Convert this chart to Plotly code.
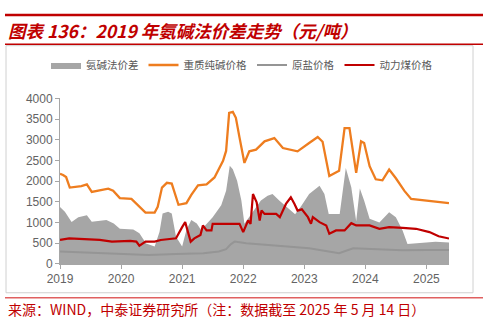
import plotly.graph_objects as go

# ---------------- data ----------------
spread_x = [2019.00, 2019.08, 2019.19, 2019.30, 2019.44, 2019.52, 2019.76, 2019.88, 2019.98, 2020.20,
            2020.30, 2020.41, 2020.55, 2020.63, 2020.68, 2020.77, 2020.83, 2020.90, 2021.00, 2021.07,
            2021.15, 2021.24, 2021.31, 2021.40, 2021.50, 2021.64, 2021.72, 2021.78, 2021.83, 2021.90,
            2021.97, 2022.02, 2022.10, 2022.21, 2022.29, 2022.40, 2022.48, 2022.59, 2022.72, 2022.85,
            2022.95, 2023.08, 2023.25, 2023.33, 2023.40, 2023.58, 2023.68, 2023.77, 2023.85, 2023.91,
            2023.98, 2024.07, 2024.23, 2024.39, 2024.50, 2024.61, 2024.69, 2024.93, 2025.15, 2025.37]
spread = [1375, 1260, 1015, 1130, 1175, 1020, 1060, 980, 850, 830,
          740, 495, 420, 780, 1220, 1260, 1220, 660, 420, 820,
          1060, 980, 820, 980, 1130, 1420, 1770, 2370, 2290, 2010,
          1530, 970, 1130, 1370, 1530, 1650, 1690, 1530, 1370, 1200,
          1400, 1690, 1890, 1690, 1210, 1210, 2320, 1850, 1030, 1820,
          1530, 1090, 1000, 1250, 1130, 810, 480, 510, 540, 520]

soda_x = [2019.00, 2019.05, 2019.10, 2019.16, 2019.35, 2019.44, 2019.52, 2019.65, 2019.79, 2019.87,
          2019.98, 2020.17, 2020.25, 2020.40, 2020.55, 2020.60, 2020.67, 2020.75, 2020.83, 2020.94,
          2021.07, 2021.15, 2021.26, 2021.40, 2021.53, 2021.67, 2021.72, 2021.77, 2021.83, 2021.88,
          2021.94, 2022.02, 2022.10, 2022.21, 2022.35, 2022.51, 2022.65, 2022.89, 2023.08, 2023.22,
          2023.30, 2023.41, 2023.57, 2023.66, 2023.74, 2023.85, 2023.93, 2023.98, 2024.07, 2024.17,
          2024.28, 2024.39, 2024.50, 2024.64, 2024.75, 2025.05, 2025.37]
soda = [2180, 2150, 2100, 1845, 1880, 1920, 1740, 1770, 1820, 1770,
        1590, 1570, 1450, 1240, 1240, 1380, 1845, 1960, 1940, 1430,
        1470, 1670, 1900, 1920, 2090, 2490, 2730, 3645, 3670, 3530,
        3050, 2440, 2720, 2760, 2960, 3040, 2800, 2720, 2920, 3065,
        2950, 2125, 2250, 3280, 3280, 2200, 2960, 2920, 2360, 2045,
        2020, 2280, 2070, 1765, 1570, 1530, 1470]

salt_x = [2019.00, 2019.20, 2019.65, 2020.10, 2020.45, 2020.90, 2021.35, 2021.60, 2021.72, 2021.80,
          2021.86, 2022.05, 2022.40, 2022.76, 2023.08, 2023.40, 2023.57, 2023.80, 2024.10, 2024.60,
          2025.00, 2025.37]
salt = [300, 290, 265, 250, 220, 240, 260, 300, 360, 480,
        540, 500, 460, 420, 380, 300, 260, 380, 360, 330,
        335, 340]

coal_x = [2019.00, 2019.15, 2019.40, 2019.65, 2019.85, 2020.15, 2020.25, 2020.30, 2020.40, 2020.55,
          2020.65, 2020.90, 2021.00, 2021.05, 2021.14, 2021.20, 2021.30, 2021.34, 2021.40, 2021.48,
          2021.50, 2021.53, 2021.94, 2022.00, 2022.08, 2022.12, 2022.16, 2022.22, 2022.27, 2022.30,
          2022.35, 2022.54, 2022.60, 2022.70, 2022.78, 2022.84, 2022.89, 2022.96, 2023.06, 2023.11,
          2023.14, 2023.25, 2023.36, 2023.41, 2023.52, 2023.66, 2023.77, 2023.85, 2024.07, 2024.23,
          2024.39, 2024.61, 2024.83, 2025.05, 2025.20, 2025.37]
coal = [580, 620, 600, 580, 540, 560, 540, 440, 540, 540,
        580, 620, 890, 1010, 540, 620, 700, 930, 810, 810,
        970, 970, 970, 770, 1050, 970, 1690, 1490, 1050, 1290,
        1210, 1210, 1130, 1450, 1610, 1450, 1290, 1320, 1130, 970,
        1130, 1010, 930, 730, 810, 810, 985, 930, 930, 850,
        890, 870, 850, 770, 670, 615]

year_ticks = [2019, 2020, 2021, 2022, 2023, 2024, 2025]
series_names = ["氨碱法价差", "重质纯碱价格", "原盐价格", "动力煤价格"]

title_text = "图表 136：2019 年氨碱法价差走势（元/吨）"
source_text = "来源：WIND，中泰证券研究所（注：数据截至 2025 年 5 月 14 日）"

# ---------------- layout geometry ----------------
W, H = 488, 321
L, R, T, B = 60, 39, 97, 57
PW, PH = W - L - R, H - T - B


def px(x):
    return (x - L) / PW


def py(y):
    return (H - B - y) / PH


fig = go.Figure()
fig.add_trace(go.Scatter(x=spread_x, y=spread, name=series_names[0], mode="lines",
                         line=dict(color="#a6a6a6", width=0), fill="tozeroy",
                         fillcolor="#a6a6a6"))
fig.add_trace(go.Scatter(x=soda_x, y=soda, name=series_names[1], mode="lines",
                         line=dict(color="#ee7d1f", width=2.3)))
fig.add_trace(go.Scatter(x=salt_x, y=salt, name=series_names[2], mode="lines",
                         line=dict(color="#959595", width=2)))
fig.add_trace(go.Scatter(x=coal_x, y=coal, name=series_names[3], mode="lines",
                         line=dict(color="#c00000", width=2.2)))

axis_font = dict(family="Liberation Sans, Arial", size=12, color="#636363")
fig.update_xaxes(range=[2019, 2025.37], tickvals=year_ticks, ticktext=[str(v) for v in year_ticks],
                 showgrid=False, zeroline=False, showline=True, linecolor="#a6a6a6",
                 ticks="outside", ticklen=4, tickcolor="#a6a6a6", tickfont=axis_font)
fig.update_yaxes(range=[0, 4000], dtick=500, showgrid=False, zeroline=False, showline=True,
                 linecolor="#a6a6a6", ticks="outside", ticklen=4, tickcolor="#a6a6a6",
                 tickfont=axis_font)

shapes = [
    dict(type="rect", xref="paper", yref="paper", x0=px(6), x1=px(473), y0=py(293), y1=py(44),
         line=dict(color="#d0d0d0", width=1), fillcolor="rgba(0,0,0,0)", layer="below"),
    dict(type="line", xref="paper", yref="paper", x0=px(5), x1=px(483), y0=py(13), y1=py(13),
         line=dict(color="#c00000", width=2.5)),
    dict(type="line", xref="paper", yref="paper", x0=px(5), x1=px(483), y0=py(42.5), y1=py(42.5),
         line=dict(color="#c00000", width=1.5)),
    dict(type="line", xref="paper", yref="paper", x0=px(5), x1=px(483), y0=py(298), y1=py(298),
         line=dict(color="#e06060", width=1.5)),
]

annotations = [
    dict(text="<b><i>" + title_text + "</i></b>", xref="paper", yref="paper", x=px(6), y=py(29),
         xanchor="left", yanchor="middle", showarrow=False,
         font=dict(family="Noto Sans CJK SC", size=17.5, color="#c00000")),
    dict(text=source_text, xref="paper", yref="paper", x=px(6), y=py(309),
         xanchor="left", yanchor="middle", showarrow=False,
         font=dict(family="Noto Sans CJK SC", size=14, color="#c00000")),
]

fig.update_layout(
    width=W, height=H, margin=dict(l=L, r=R, t=T, b=B),
    paper_bgcolor="white", plot_bgcolor="white",
    shapes=shapes, annotations=annotations,
    legend=dict(orientation="h", xref="container", yref="container",
                x=242 / W, y=1 - 65 / H, xanchor="center", yanchor="middle",
                font=dict(family="Noto Sans CJK SC", size=10.5, color="#595959"),
                itemwidth=30, tracegroupgap=0, bgcolor="rgba(0,0,0,0)"),
    showlegend=True,
)

fig.write_html("out.html")
